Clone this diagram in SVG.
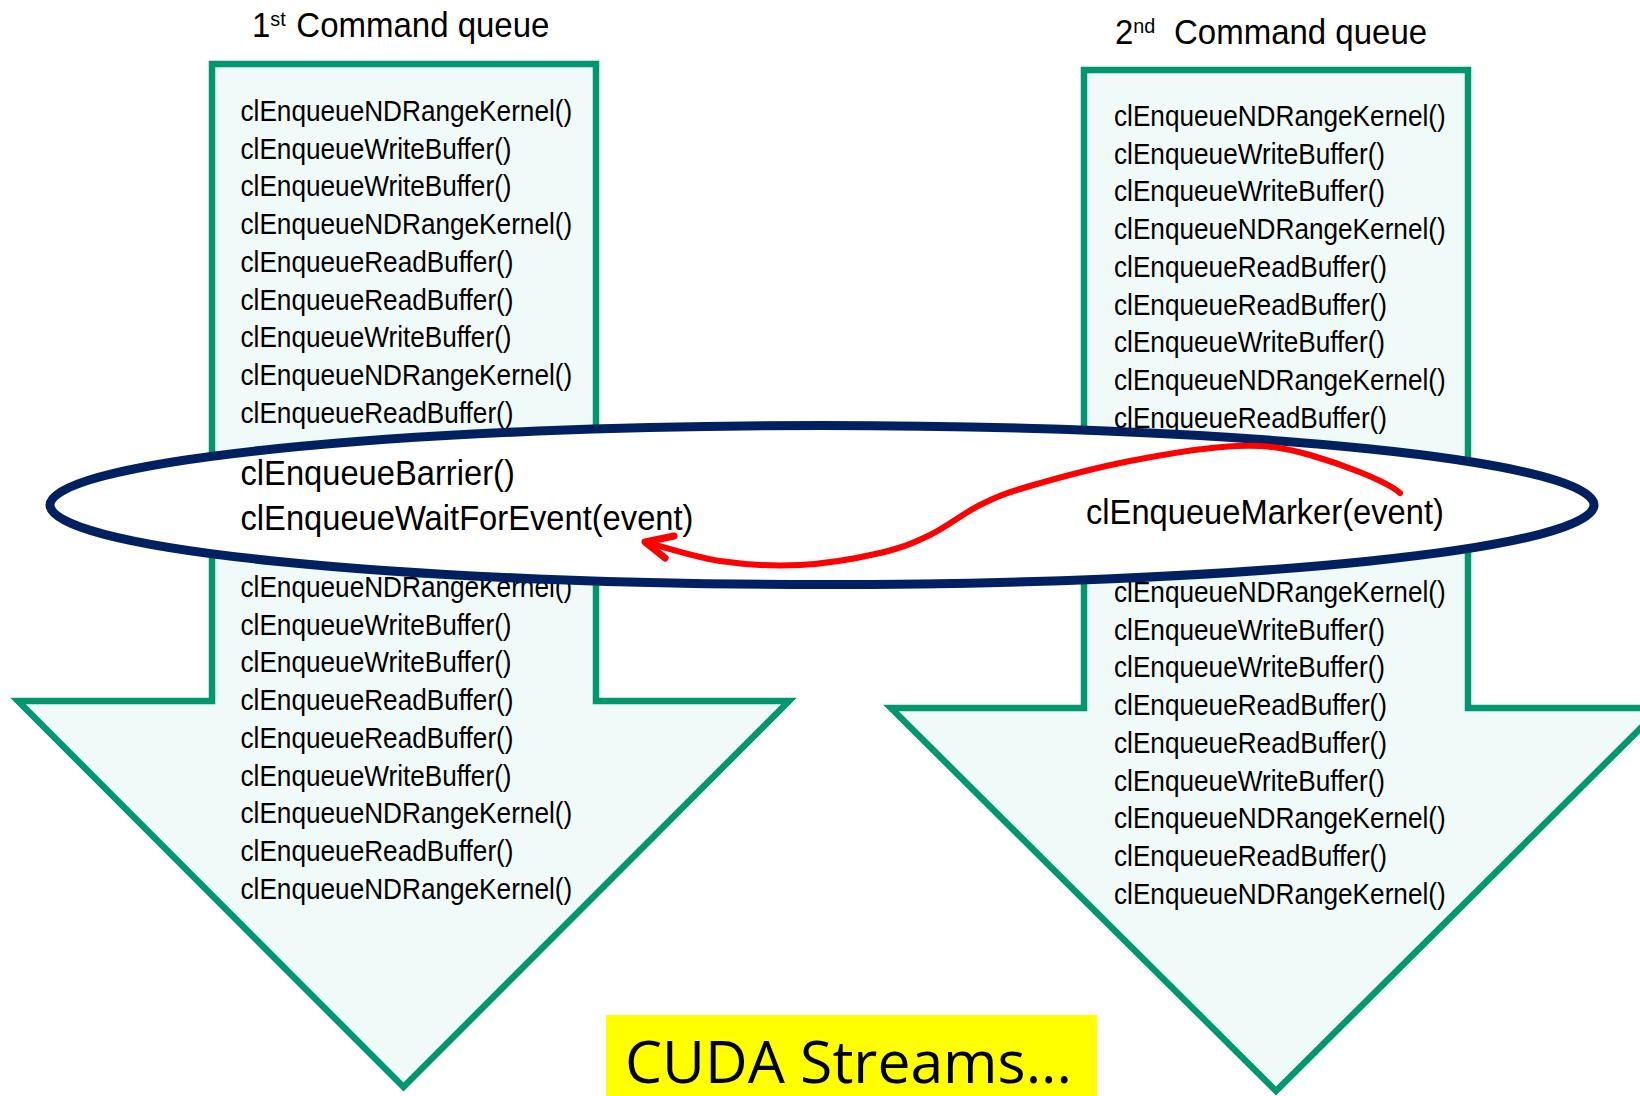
<svg xmlns="http://www.w3.org/2000/svg" width="1640" height="1096" viewBox="0 0 1640 1096">
  <style>
    .queue { fill: #F0FAF8; stroke: #00966E; stroke-width: 6.5; stroke-linejoin: miter; stroke-miterlimit: 10; }
    .title { font-family: "Liberation Sans", Arial, sans-serif; font-size: 35px; fill: #000; }
    .cmd { font-family: "Liberation Sans", Arial, sans-serif; font-size: 30px; fill: #000; }
    .sync { font-family: "Liberation Sans", Arial, sans-serif; font-size: 35px; fill: #000; }
    .scope { fill: #FFFFFF; stroke: #002060; stroke-width: 9; }
    .signal { fill: none; stroke: #FF0000; stroke-width: 6; stroke-linecap: round; }
    .label { font-family: "Open Sans", "Noto Sans", sans-serif; font-size: 58px; fill: #000; }
  </style>
  <defs>
    <marker id="head" markerUnits="userSpaceOnUse" orient="auto" markerWidth="70" markerHeight="70" viewBox="-35 -35 70 70" refX="0" refY="0" overflow="visible">
      <path d="M-26.6,13 L0,0 L-23.4,-10.5" fill="none" stroke="#FF0000" stroke-width="7" stroke-linecap="round" stroke-linejoin="round"/>
    </marker>
  </defs>

  <rect width="1640" height="1096" fill="#FFFFFF"/>

  <!-- first command queue -->
  <g id="queue1">
    <g transform="translate(252 37) scale(0.943 1)">
      <text class="title" x="0" y="0">1<tspan font-size="21" dy="-11">st</tspan><tspan x="47" y="0">Command queue</tspan></text>
    </g>
    <polygon class="queue" points="212,64 596,64 596,701 789,701 403.5,1087 18,701 212,701"/>
    <g transform="translate(240.5 0) scale(0.873 1)">
      <text class="cmd">
        <tspan x="0" y="121">clEnqueueNDRangeKernel()</tspan>
        <tspan x="0" y="158.75">clEnqueueWriteBuffer()</tspan>
        <tspan x="0" y="196.5">clEnqueueWriteBuffer()</tspan>
        <tspan x="0" y="234.25">clEnqueueNDRangeKernel()</tspan>
        <tspan x="0" y="272">clEnqueueReadBuffer()</tspan>
        <tspan x="0" y="309.75">clEnqueueReadBuffer()</tspan>
        <tspan x="0" y="347.5">clEnqueueWriteBuffer()</tspan>
        <tspan x="0" y="385.25">clEnqueueNDRangeKernel()</tspan>
        <tspan x="0" y="423">clEnqueueReadBuffer()</tspan>
      </text>
      <text class="cmd">
        <tspan x="0" y="597">clEnqueueNDRangeKernel()</tspan>
        <tspan x="0" y="634.75">clEnqueueWriteBuffer()</tspan>
        <tspan x="0" y="672.5">clEnqueueWriteBuffer()</tspan>
        <tspan x="0" y="710.25">clEnqueueReadBuffer()</tspan>
        <tspan x="0" y="748">clEnqueueReadBuffer()</tspan>
        <tspan x="0" y="785.75">clEnqueueWriteBuffer()</tspan>
        <tspan x="0" y="823.5">clEnqueueNDRangeKernel()</tspan>
        <tspan x="0" y="861.25">clEnqueueReadBuffer()</tspan>
        <tspan x="0" y="899">clEnqueueNDRangeKernel()</tspan>
      </text>
    </g>
  </g>

  <!-- second command queue -->
  <g id="queue2">
    <g transform="translate(1115 44) scale(0.943 1)">
      <text class="title" x="0" y="0">2<tspan font-size="21" dy="-11">nd</tspan><tspan x="62.6" y="0">Command queue</tspan></text>
    </g>
    <polygon class="queue" points="1084,70 1468,70 1468,708 1661,708 1276,1091 891,708 1084,708"/>
    <g transform="translate(1114 0) scale(0.873 1)">
      <text class="cmd">
        <tspan x="0" y="126">clEnqueueNDRangeKernel()</tspan>
        <tspan x="0" y="163.75">clEnqueueWriteBuffer()</tspan>
        <tspan x="0" y="201.5">clEnqueueWriteBuffer()</tspan>
        <tspan x="0" y="239.25">clEnqueueNDRangeKernel()</tspan>
        <tspan x="0" y="277">clEnqueueReadBuffer()</tspan>
        <tspan x="0" y="314.75">clEnqueueReadBuffer()</tspan>
        <tspan x="0" y="352.5">clEnqueueWriteBuffer()</tspan>
        <tspan x="0" y="390.25">clEnqueueNDRangeKernel()</tspan>
        <tspan x="0" y="428">clEnqueueReadBuffer()</tspan>
      </text>
      <text class="cmd">
        <tspan x="0" y="602">clEnqueueNDRangeKernel()</tspan>
        <tspan x="0" y="639.75">clEnqueueWriteBuffer()</tspan>
        <tspan x="0" y="677.5">clEnqueueWriteBuffer()</tspan>
        <tspan x="0" y="715.25">clEnqueueReadBuffer()</tspan>
        <tspan x="0" y="753">clEnqueueReadBuffer()</tspan>
        <tspan x="0" y="790.75">clEnqueueWriteBuffer()</tspan>
        <tspan x="0" y="828.5">clEnqueueNDRangeKernel()</tspan>
        <tspan x="0" y="866.25">clEnqueueReadBuffer()</tspan>
        <tspan x="0" y="904">clEnqueueNDRangeKernel()</tspan>
      </text>
    </g>
  </g>

  <!-- synchronisation point shared by both queues -->
  <g id="sync">
    <ellipse class="scope" cx="822" cy="505" rx="772" ry="79.5"/>
    <g transform="translate(240.5 0) scale(0.934 1)">
      <text class="sync">
        <tspan x="0" y="485">clEnqueueBarrier()</tspan>
        <tspan x="0" y="530">clEnqueueWaitForEvent(event)</tspan>
      </text>
    </g>
    <g transform="translate(1086 0) scale(0.934 1)">
      <text class="sync" x="0" y="524">clEnqueueMarker(event)</text>
    </g>
  </g>

  <!-- event dependency from marker to wait -->
  <g id="connectors">
    <path class="signal" marker-end="url(#head)" d="M1400,493 C1385,480 1337.2,462.8 1310,455 C1282.8,447.2 1267,445 1237,446 C1207,447 1164.5,454.3 1130,461 C1095.5,467.7 1055,478.7 1030,486 C1005,493.3 996.7,496.8 980,505 C963.3,513.2 946.7,527 930,535 C913.3,543 901.7,548 880,553 C858.3,558 826.7,563.7 800,565 C773.3,566.3 745.8,564.8 720,561 C694.2,557.2 657.5,545.2 645,542"/>
  </g>

  <!-- caption -->
  <g id="caption">
    <rect x="606" y="1015" width="491" height="81" fill="#FFFF00"/>
    <text class="label" x="625" y="1083" textLength="447" lengthAdjust="spacingAndGlyphs">CUDA Streams...</text>
  </g>
</svg>
